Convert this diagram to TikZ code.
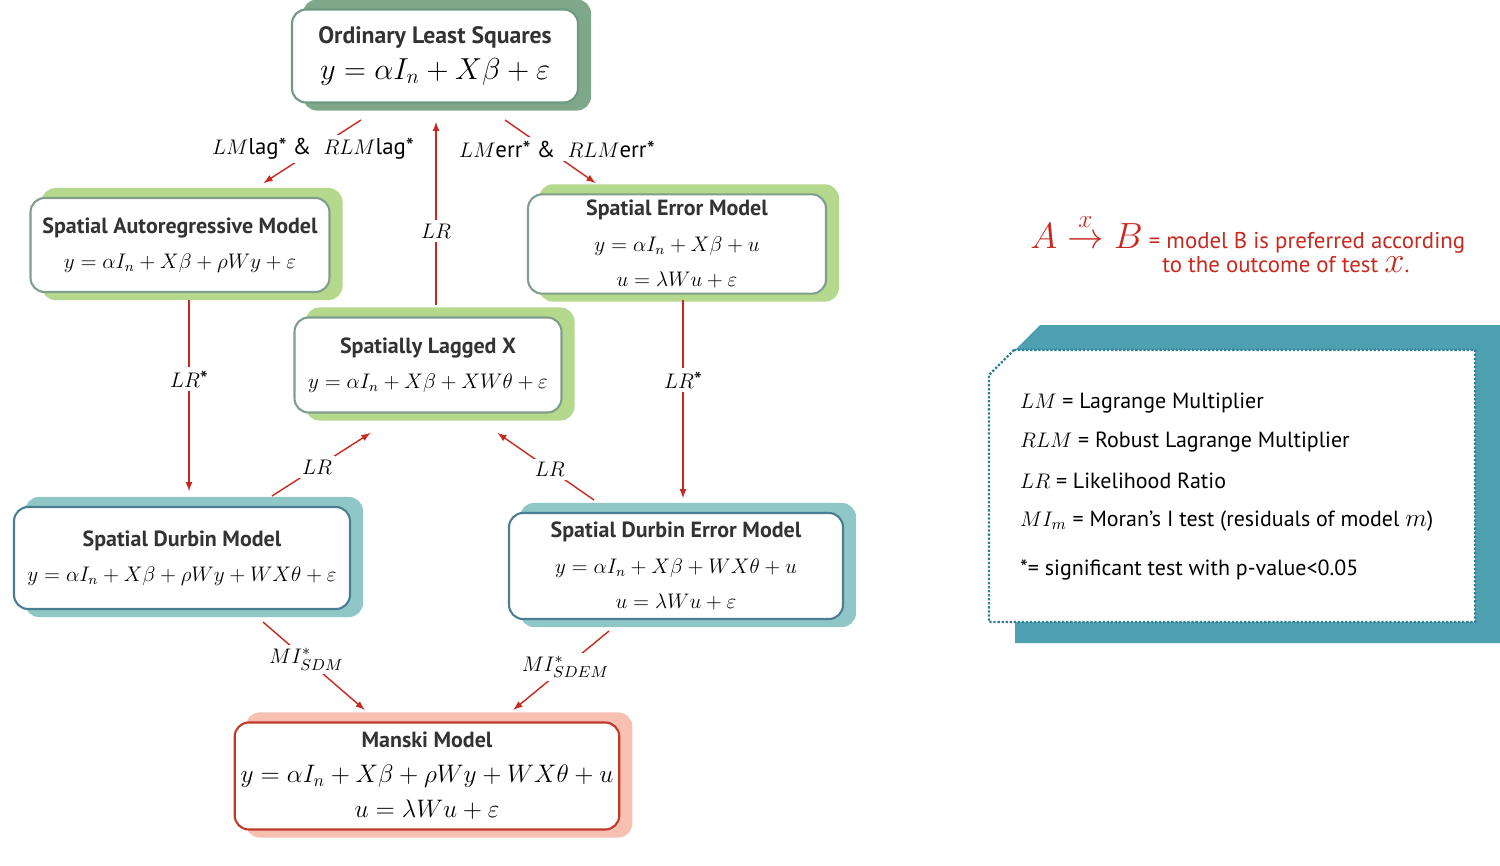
\documentclass[tikz,border=0pt]{standalone}
\usepackage{amsmath}
\usepackage{fontspec}
\setmainfont{PT Sans}
\usetikzlibrary{calc,backgrounds}
\definecolor{olsC}{HTML}{7FA88A}
\definecolor{olsB}{HTML}{6E9A80}
\definecolor{lgC}{HTML}{B5D98C}
\definecolor{lgB}{HTML}{7F9E8C}
\definecolor{tlC}{HTML}{8EC7C6}
\definecolor{tlB}{HTML}{4A7F93}
\definecolor{mkC}{HTML}{F8C0B0}
\definecolor{mkB}{HTML}{C0392B}
\definecolor{arr}{HTML}{C8281E}
\definecolor{teal}{HTML}{4E9FB0}
\definecolor{dteal}{HTML}{2E7F95}
\begin{document}
\begin{tikzpicture}[x=0.02cm,y=-0.02cm,>=latex,
                    box/.style={draw, line width=1.2pt, fill=white, rounded corners=8pt,
                                align=center, font=\fontsize{12.5}{20}\selectfont, text=black!80},
                    test/.style={->, arr, thick, shorten >=1pt},
                    lab/.style={fill=white, text=black, inner sep=2pt, font=\fontsize{13}{14}\selectfont}]
  \useasboundingbox (0,0) rectangle (1500,865);

  \node[box, draw=olsB, minimum width=5.72cm, minimum height=1.86cm] (ols) at (435,56)
    {\fontsize{13.5}{24}\selectfont\bfseries Ordinary Least Squares\\ \LARGE\color{black} $y=\alpha I_n+X\beta+\varepsilon$};
  \node[box, draw=lgB, minimum width=5.98cm, minimum height=1.88cm] (sar) at (180,245)
    {\bfseries Spatial Autoregressive Model\\ \large\color{black} $y=\alpha I_n+X\beta+\rho Wy+\varepsilon$};
  \node[box, draw=lgB, minimum width=5.96cm, minimum height=1.82cm] (sem) at (677,244)
    {\fontsize{12.5}{16}\selectfont\bfseries Spatial Error Model\\ \large\color{black} $y=\alpha I_n+X\beta+u$\\ \large\color{black} $u=\lambda Wu+\varepsilon$};
  \node[box, draw=lgB, minimum width=5.34cm, minimum height=1.9cm] (slx) at (428,365)
    {\fontsize{12.5}{22}\selectfont\bfseries Spatially Lagged X\\ \large\color{black} $y=\alpha I_n+X\beta+XW\theta+\varepsilon$};
  \node[box, draw=tlB, minimum width=6.72cm, minimum height=2.04cm] (sdm) at (182,558)
    {\fontsize{12.5}{22}\selectfont\bfseries Spatial Durbin Model\\ \large\color{black} $y=\alpha I_n+X\beta+\rho Wy+WX\theta+\varepsilon$};
  \node[box, draw=tlB, minimum width=6.68cm, minimum height=2.12cm] (sdem) at (676,566)
    {\fontsize{12.5}{17}\selectfont\bfseries Spatial Durbin Error Model\\ \large\color{black} $y=\alpha I_n+X\beta+WX\theta+u$\\ \large\color{black} $u=\lambda Wu+\varepsilon$};
  \node[box, draw=mkB, minimum width=7.4cm, minimum height=2.14cm] (mk) at (427,776)
    {\fontsize{12.5}{18}\selectfont\bfseries Manski Model\\ \Large\color{black} $y=\alpha I_n+X\beta+\rho Wy+WX\theta+u$\\ \Large\color{black} $u=\lambda Wu+\varepsilon$};

  % shadows
  \begin{scope}[on background layer]
    \foreach \n/\c in {ols/olsC,sar/lgC,sem/lgC,slx/lgC,sdm/tlC,sdem/tlC,mk/mkC}
      \fill[\c, rounded corners=8pt] ($(\n.south west)+(12,7)$) rectangle ($(\n.north east)+(12,-9)$);
  \end{scope}

  % tests
  \coordinate (a1) at (361,120); \coordinate (b1) at (262,184);
  \coordinate (a2) at (505,120); \coordinate (b2) at (597,184);
  \coordinate (a3) at (436,305); \coordinate (b3) at (436,120);
  \coordinate (a4) at (189,300); \coordinate (b4) at (189,493);
  \coordinate (a5) at (683,300); \coordinate (b5) at (683,500);
  \coordinate (a6) at (272,496); \coordinate (b6) at (372,432);
  \coordinate (a7) at (594,500); \coordinate (b7) at (496,432);
  \coordinate (a8) at (263,622); \coordinate (b8) at (366,711);
  \coordinate (a9) at (609,631); \coordinate (b9) at (512,711);

  \draw[test] (a1) -- (b1);
  \draw[test] (a2) -- (b2);
  \draw[test] (a3) -- (b3) node[lab, pos=0.4] {$LR$};
  \draw[test] (a4) -- (b4) node[lab, pos=0.41] {$LR$*};
  \draw[test] (a5) -- (b5) node[lab, pos=0.4] {$LR$*};
  \draw[test] (a6) -- (b6) node[lab, pos=0.45] {$LR$};
  \draw[test] (a7) -- (b7) node[lab, pos=0.45] {$LR$};
  \draw[test] (a8) -- (b8) node[lab, pos=0.42] {$MI^*_{SDM}$};
  \draw[test] (a9) -- (b9) node[lab, pos=0.45] {$MI^*_{SDEM}$};
  \node[lab, inner xsep=6pt] (t1) at (313,149) {$LM$lag* \&\ \ $RLM$lag*};
  \node[lab, inner xsep=6pt] (t2) at (557,149) {$LM$err* \&\ \ $RLM$err*};

  % legend
  \node[anchor=west, text=arr, inner sep=0pt, font=\fontsize{13}{16}\selectfont] (key) at (1030,233)
    {{\huge $A\overset{x}{\rightarrow}B$} = model B is preferred according};
  \node[anchor=west, text=arr, inner sep=0pt, font=\fontsize{13}{16}\selectfont] (key2) at (1162,265)
    {to the outcome of test {\huge $x$}.};
  \fill[teal] (1040,325) -- (1500,325) -- (1500,643) -- (1015,643) -- (1015,350) -- cycle;
  \draw[dteal, fill=white, line width=1.3pt, densely dotted] (1014,350) -- (1475,350) -- (1475,622)
    -- (989,622) -- (989,375) -- cycle;
  \foreach \y/\t in {403/{$LM$ = Lagrange Multiplier},
                     442/{$RLM$ = Robust Lagrange Multiplier},
                     481/{$LR$ = Likelihood Ratio},
                     521/{$MI_m$ = Moran's I test (residuals of model {\Large $m$})},
                     570/{*= significant test with p-value<0.05}}
    \node[anchor=west, font=\fontsize{12.5}{14}\selectfont] at (1014,\y) {\t};
\end{tikzpicture}
\end{document}
